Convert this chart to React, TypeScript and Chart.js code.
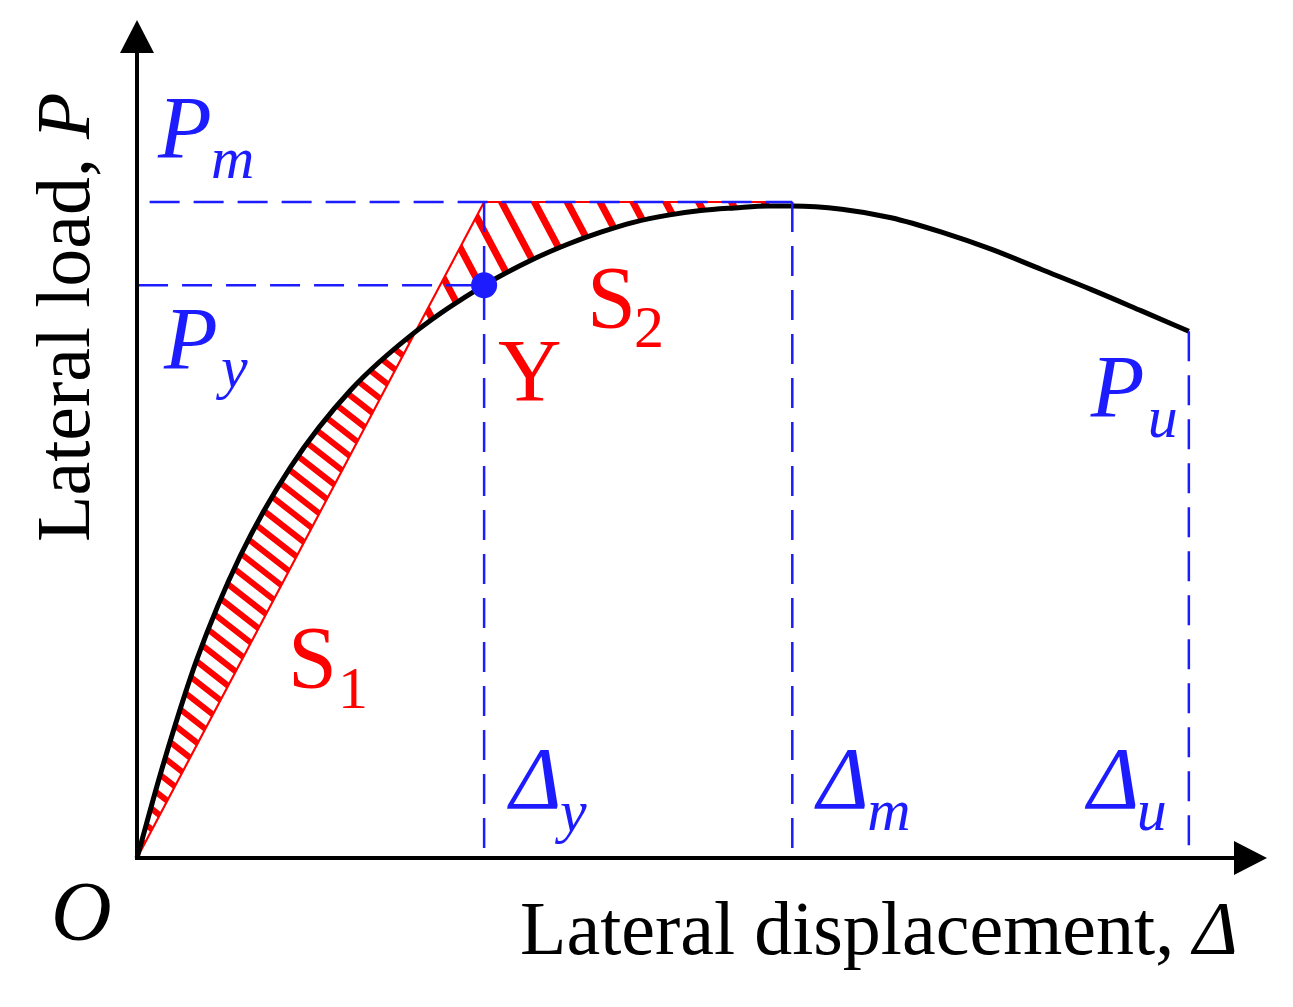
import { useEffect, useRef } from "react";
import { Chart, registerables } from "chart.js";

Chart.register(...registerables);

// ---- data (schematic units: displacement, load) ----
const dispX = [0, 2.5, 5.7, 9.8, 14.6, 20.3, 26.7, 33.0, 37.7, 41.0, 44.1, 47.2, 50.5, 53.6, 56.8, 60.0, 62.3, 67.0, 71.7, 76.5, 81.2, 86.0, 90.8, 95.5, 100];
const loadP = [0, 14.3, 30.3, 46.0, 59.6, 71.3, 80.5, 87.3, 91.3, 93.6, 95.4, 96.9, 98.0, 98.7, 99.1, 99.4, 99.4, 98.9, 97.6, 95.4, 92.8, 89.7, 86.6, 83.4, 80.3];
const keyDisp = [33.0, 62.3, 100]; // Δy, Δm, Δu
const keyLoad = [87.3, 100, 80.3]; // Py, Pm, Pu
const axisMax = [107.43, 127.74]; // x max, y max

const [Dy, Dm, Du] = keyDisp;
const [Py, Pm, Pu] = keyLoad;

const BLUE = "#1c1cff";
const RED = "#ff0000";
const SERIF = '"Liberation Serif", "Times New Roman", serif';

function crossDisp(): number {
  const k = Pm / Dy;
  for (let i = 2; i < dispX.length; i++) {
    const a = loadP[i - 1] - k * dispX[i - 1];
    const b = loadP[i] - k * dispX[i];
    if (a > 0 && b <= 0) {
      const t = a / (a - b);
      return dispX[i - 1] + t * (dispX[i] - dispX[i - 1]);
    }
  }
  return Dy;
}

function stripes(ctx: CanvasRenderingContext2D, w: number, h: number, angleDeg: number, spacing: number, width: number) {
  const th = (angleDeg * Math.PI) / 180;
  const dx = Math.cos(th), dy = Math.sin(th);
  const nx = -Math.sin(th), ny = Math.cos(th);
  const cs = [[0, 0], [w, 0], [0, h], [w, h]].map(([x, y]) => x * nx + y * ny);
  const cmin = Math.min(...cs), cmax = Math.max(...cs);
  const L = 4000;
  ctx.beginPath();
  for (let c = Math.floor(cmin / spacing) * spacing; c <= cmax; c += spacing) {
    const cx = nx * c, cy = ny * c;
    ctx.moveTo(cx - dx * L, cy - dy * L);
    ctx.lineTo(cx + dx * L, cy + dy * L);
  }
  ctx.strokeStyle = RED;
  ctx.lineWidth = width;
  ctx.lineCap = "butt";
  ctx.stroke();
}

const hatchPlugin = {
  id: "hatch",
  beforeDatasetsDraw(chart: any) {
    const ctx: CanvasRenderingContext2D = chart.ctx;
    const area = chart.chartArea;
    const line = chart.getDatasetMeta(0).dataset;
    if (!line) return;
    if (line.updateControlPoints) line.updateControlPoints(area, "x");
    const X = (v: number) => chart.scales.x.getPixelForValue(v);
    const Y = (v: number) => chart.scales.y.getPixelForValue(v);
    const ix = X(crossDisp());
    const region = () => {
      ctx.beginPath();
      line.path(ctx);
      ctx.lineTo(X(Dm), Y(Pm));
      ctx.lineTo(X(Dy), Y(Pm));
      ctx.lineTo(X(0), Y(0));
      ctx.closePath();
    };
    // S1
    ctx.save();
    ctx.beginPath();
    ctx.rect(X(0) - 5, 0, ix - X(0) + 5, chart.height);
    ctx.clip();
    region();
    ctx.clip();
    stripes(ctx, chart.width, chart.height, 38, 16, 6);
    ctx.restore();
    // S2
    ctx.save();
    ctx.beginPath();
    ctx.rect(ix, 0, X(Dm) - ix, chart.height);
    ctx.clip();
    region();
    ctx.clip();
    stripes(ctx, chart.width, chart.height, 62, 29, 7);
    ctx.restore();
  },
};

function drawInk(ctx: CanvasRenderingContext2D, text: string, font: string, inkLeft: number, baseline: number, color: string) {
  ctx.font = font;
  ctx.fillStyle = color;
  ctx.textAlign = "left";
  ctx.textBaseline = "alphabetic";
  const m = ctx.measureText(text);
  ctx.fillText(text, inkLeft + m.actualBoundingBoxLeft, baseline);
}

const overlayPlugin = {
  id: "overlay",
  afterDatasetsDraw(chart: any) {
    const ctx: CanvasRenderingContext2D = chart.ctx;
    const area = chart.chartArea;
    const X = (v: number) => chart.scales.x.getPixelForValue(v);
    const Y = (v: number) => chart.scales.y.getPixelForValue(v);
    const ox = X(0), oy = Y(0);

    // axes
    ctx.save();
    ctx.strokeStyle = "#000";
    ctx.fillStyle = "#000";
    ctx.lineWidth = 4;
    ctx.beginPath();
    ctx.moveTo(ox, oy + 2);
    ctx.lineTo(ox, area.top + 30);
    ctx.moveTo(ox - 2, oy);
    ctx.lineTo(area.right - 30, oy);
    ctx.stroke();
    ctx.beginPath();
    ctx.moveTo(ox, area.top);
    ctx.lineTo(ox - 17, area.top + 33);
    ctx.lineTo(ox + 17, area.top + 33);
    ctx.closePath();
    ctx.fill();
    ctx.beginPath();
    ctx.moveTo(area.right, oy);
    ctx.lineTo(area.right - 33, oy - 17);
    ctx.lineTo(area.right - 33, oy + 17);
    ctx.closePath();
    ctx.fill();
    ctx.restore();

    ctx.save();
    const big = `88px ${SERIF}`;
    const bigI = `italic 88px ${SERIF}`;
    const subI = `italic 60px ${SERIF}`;
    const sub = `60px ${SERIF}`;

    // blue load labels
    drawInk(ctx, "P", bigI, ox + 20, Y(Pm) - 45, BLUE);
    drawInk(ctx, "m", subI, ox + 76, Y(Pm) - 24, BLUE);
    drawInk(ctx, "P", bigI, ox + 26, Y(Py) + 83, BLUE);
    drawInk(ctx, "y", subI, ox + 78, Y(Py) + 102, BLUE);
    drawInk(ctx, "P", bigI, X(Du) - 99, Y(Pu) + 85, BLUE);
    drawInk(ctx, "u", subI, X(Du) - 39, Y(Pu) + 106, BLUE);

    // blue displacement labels
    drawInk(ctx, "Δ", bigI, X(Dy) + 23, oy - 50, BLUE);
    drawInk(ctx, "y", subI, X(Dy) + 70, oy - 27, BLUE);
    drawInk(ctx, "Δ", bigI, X(Dm) + 22, oy - 50, BLUE);
    drawInk(ctx, "m", subI, X(Dm) + 77, oy - 28, BLUE);
    drawInk(ctx, "Δ", bigI, X(Du) - 104, oy - 50, BLUE);
    drawInk(ctx, "u", subI, X(Du) - 50, oy - 28, BLUE);

    // red labels
    drawInk(ctx, "Y", big, X(Dy) + 14, Y(Py) + 115, RED);
    drawInk(ctx, "S", big, X(Dy) + 108, Y(Py) + 42, RED);
    drawInk(ctx, "2", sub, X(Dy) + 152, Y(Py) + 62, RED);
    drawInk(ctx, "S", big, ox + 156, oy - 171, RED);
    drawInk(ctx, "1", sub, ox + 206, oy - 150, RED);

    // origin
    drawInk(ctx, "O", `italic 84px ${SERIF}`, ox - 82, oy + 82, "#000");

    // x title
    const tf = `76px ${SERIF}`;
    const tfi = `italic 76px ${SERIF}`;
    ctx.font = tf;
    const xt = "Lateral displacement, ";
    const m1 = ctx.measureText(xt);
    const xStart = ox + 385 + m1.actualBoundingBoxLeft;
    ctx.fillStyle = "#000";
    ctx.textAlign = "left";
    ctx.textBaseline = "alphabetic";
    ctx.fillText(xt, xStart, oy + 96);
    ctx.font = tfi;
    ctx.fillText("Δ", xStart + m1.width, oy + 96);

    // y title (rotated)
    ctx.translate(ox - 48, oy - 318);
    ctx.rotate(-Math.PI / 2);
    ctx.font = tf;
    const yt = "Lateral load, ";
    const m2 = ctx.measureText(yt);
    ctx.fillText(yt, m2.actualBoundingBoxLeft, 0);
    ctx.font = tfi;
    ctx.fillText("P", m2.actualBoundingBoxLeft + m2.width, 0);
    ctx.restore();
  },
};

const dash = [30, 14];
const guide = (pts: { x: number; y: number }[]) => ({
  data: pts,
  borderColor: BLUE,
  borderWidth: 2.5,
  borderDash: dash,
  pointRadius: 0,
  tension: 0,
  fill: false,
  order: 1,
  clip: false as const,
});

export default function App() {
  const ref = useRef<HTMLCanvasElement | null>(null);
  useEffect(() => {
    document.body.style.margin = "0";
    const canvas = ref.current;
    if (!canvas) return;
    const chart = new Chart(canvas, {
      type: "line",
      data: {
        datasets: [
          {
            label: "P-Δ curve",
            data: dispX.map((x, i) => ({ x, y: loadP[i] })),
            borderColor: "#000",
            borderWidth: 5,
            cubicInterpolationMode: "monotone",
            pointRadius: 0,
            fill: false,
            order: 2,
            clip: false,
          } as any,
          {
            label: "equivalent bilinear",
            data: [
              { x: 0, y: 0 },
              { x: Dy, y: Pm },
              { x: Dm, y: Pm },
            ],
            borderColor: RED,
            borderWidth: 2.2,
            tension: 0,
            pointRadius: 0,
            fill: false,
            order: 3,
            clip: false,
          } as any,
          guide([{ x: 1.2, y: Pm }, { x: Dm, y: Pm }]) as any,
          guide([{ x: 0.1, y: Py }, { x: Dy, y: Py }]) as any,
          guide([{ x: Dy, y: Pm }, { x: Dy, y: 0 }]) as any,
          guide([{ x: Dm, y: Pm }, { x: Dm, y: 0 }]) as any,
          guide([{ x: Du, y: Pu }, { x: Du, y: 0 }]) as any,
          {
            label: "Y",
            data: [{ x: Dy, y: Py }],
            showLine: false,
            pointRadius: 13,
            pointBackgroundColor: BLUE,
            pointBorderColor: BLUE,
            pointBorderWidth: 0,
            order: 0,
            clip: false,
          } as any,
        ],
      },
      options: {
        responsive: false,
        devicePixelRatio: 1,
        animation: false,
        events: [],
        layout: { padding: { left: 137, right: 26, top: 20, bottom: 149 } },
        scales: {
          x: { type: "linear", min: 0, max: axisMax[0], display: false },
          y: { type: "linear", min: 0, max: axisMax[1], display: false },
        },
        plugins: {
          legend: { display: false },
          tooltip: { enabled: false },
        },
      },
      plugins: [hatchPlugin, overlayPlugin],
    });
    return () => chart.destroy();
  }, []);
  return (
    <div style={{ width: 1293, height: 1007, background: "#fff" }}>
      <canvas ref={ref} width={1293} height={1007} style={{ display: "block" }} />
    </div>
  );
}
